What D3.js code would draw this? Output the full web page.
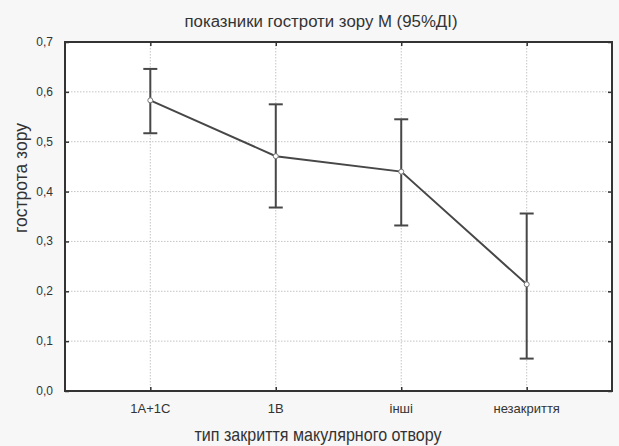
<!DOCTYPE html>
<html>
<head>
<meta charset="utf-8">
<script src="https://cdn.jsdelivr.net/npm/d3@7"></script>
<style>
  body { margin: 0; background: #f7f7f7; }
  svg { display: block; }
  text { font-family: "Liberation Sans", Arial, sans-serif; fill: #333; }
</style>
</head>
<body>
<svg id="chart" width="619" height="446"></svg>
<script>
// categories and values (mean with 95% CI)
const categories = ["1A+1C", "1B", "інші", "незакриття"];
const means = [0.583, 0.471, 0.440, 0.214];
const lower = [0.517, 0.368, 0.332, 0.065];
const upper = [0.646, 0.575, 0.545, 0.356];
const yTicks = [0, 0.1, 0.2, 0.3, 0.4, 0.5, 0.6, 0.7];

const svg = d3.select("#chart");
const margin = { left: 65, right: 7, top: 42, bottom: 55 };
const width = 619, height = 446;
const x0 = margin.left, x1 = width - margin.right;
const y0 = height - margin.bottom, y1 = margin.top;

const x = d3.scalePoint().domain(categories).range([x0, x1]).padding(0.68);
const y = d3.scaleLinear().domain([0, 0.7]).range([y0, y1]);
const fmt = (d) => d3.format(".1f")(d).replace(".", ",");

// plot area
svg.append("rect")
  .attr("x", x0).attr("y", y1)
  .attr("width", x1 - x0).attr("height", y0 - y1)
  .attr("fill", "#fff");

// grid
svg.append("g").selectAll("line")
  .data(yTicks.slice(1, -1))
  .enter().append("line")
  .attr("x1", x0).attr("x2", x1)
  .attr("y1", (d) => y(d)).attr("y2", (d) => y(d))
  .attr("stroke", "#c4c4c4").attr("stroke-dasharray", "1.5,1.5");

svg.append("g").selectAll("line")
  .data(categories)
  .enter().append("line")
  .attr("x1", (d) => x(d)).attr("x2", (d) => x(d))
  .attr("y1", y1).attr("y2", y0)
  .attr("stroke", "#c4c4c4").attr("stroke-dasharray", "1.5,1.5");

// axes (ticks pointing inward)
const axisLeft = d3.axisRight(y).tickValues(yTicks).tickSize(4).tickFormat("");
const axisRight = d3.axisLeft(y).tickValues(yTicks).tickSize(4).tickFormat("");
const axisBottom = d3.axisTop(x).tickSize(4).tickFormat("");
const axisTop = d3.axisBottom(x).tickSize(4).tickFormat("");

[[axisLeft, `translate(${x0},0)`], [axisRight, `translate(${x1},0)`],
 [axisBottom, `translate(0,${y0})`], [axisTop, `translate(0,${y1})`]].forEach(([ax, tr]) => {
  const g = svg.append("g").attr("transform", tr).call(ax);
  g.select(".domain").remove();
  g.selectAll(".tick line").attr("stroke", "#333").attr("stroke-width", 1.5);
});

// frame
svg.append("rect")
  .attr("x", x0).attr("y", y1)
  .attr("width", x1 - x0).attr("height", y0 - y1)
  .attr("fill", "none").attr("stroke", "#333").attr("stroke-width", 2);

// tick labels
svg.append("g").selectAll("text")
  .data(yTicks)
  .enter().append("text")
  .attr("x", x0 - 12).attr("y", (d) => y(d) + 4)
  .attr("text-anchor", "end")
  .attr("font-size", 12)
  .text(fmt);

svg.append("g").selectAll("text")
  .data(categories)
  .enter().append("text")
  .attr("x", (d) => x(d)).attr("y", y0 + 22)
  .attr("text-anchor", "middle")
  .attr("font-size", 13)
  .text((d) => d);

// error bars
const data = categories.map((c, i) => ({ c, m: means[i], lo: lower[i], hi: upper[i] }));
const eb = svg.append("g").attr("stroke", "#474747").attr("stroke-width", 2);
eb.selectAll(".v").data(data).enter().append("line")
  .attr("x1", (d) => x(d.c)).attr("x2", (d) => x(d.c))
  .attr("y1", (d) => y(d.lo)).attr("y2", (d) => y(d.hi));
eb.selectAll(".t").data(data).enter().append("line")
  .attr("x1", (d) => x(d.c) - 7).attr("x2", (d) => x(d.c) + 7)
  .attr("y1", (d) => y(d.hi)).attr("y2", (d) => y(d.hi));
eb.selectAll(".b").data(data).enter().append("line")
  .attr("x1", (d) => x(d.c) - 7).attr("x2", (d) => x(d.c) + 7)
  .attr("y1", (d) => y(d.lo)).attr("y2", (d) => y(d.lo));

// mean line
svg.append("path")
  .datum(data)
  .attr("fill", "none").attr("stroke", "#474747").attr("stroke-width", 2)
  .attr("d", d3.line().x((d) => x(d.c)).y((d) => y(d.m)));

svg.append("g").selectAll("circle")
  .data(data)
  .enter().append("circle")
  .attr("cx", (d) => x(d.c)).attr("cy", (d) => y(d.m))
  .attr("r", 2.5)
  .attr("fill", "#fff").attr("stroke", "#777").attr("stroke-width", 1);

// titles
svg.append("text")
  .attr("x", 321).attr("y", 27)
  .attr("text-anchor", "middle")
  .attr("font-size", 16)
  .attr("textLength", 273).attr("lengthAdjust", "spacingAndGlyphs")
  .text("показники гостроти зору M  (95%ДІ)");

svg.append("text")
  .attr("transform", "translate(27,178) rotate(-90)")
  .attr("text-anchor", "middle")
  .attr("font-size", 19)
  .attr("textLength", 110).attr("lengthAdjust", "spacingAndGlyphs")
  .text("гострота зору");

svg.append("text")
  .attr("x", 318).attr("y", 441)
  .attr("text-anchor", "middle")
  .attr("font-size", 19)
  .attr("textLength", 247).attr("lengthAdjust", "spacingAndGlyphs")
  .text("тип закриття макулярного отвору");
</script>
</body>
</html>
